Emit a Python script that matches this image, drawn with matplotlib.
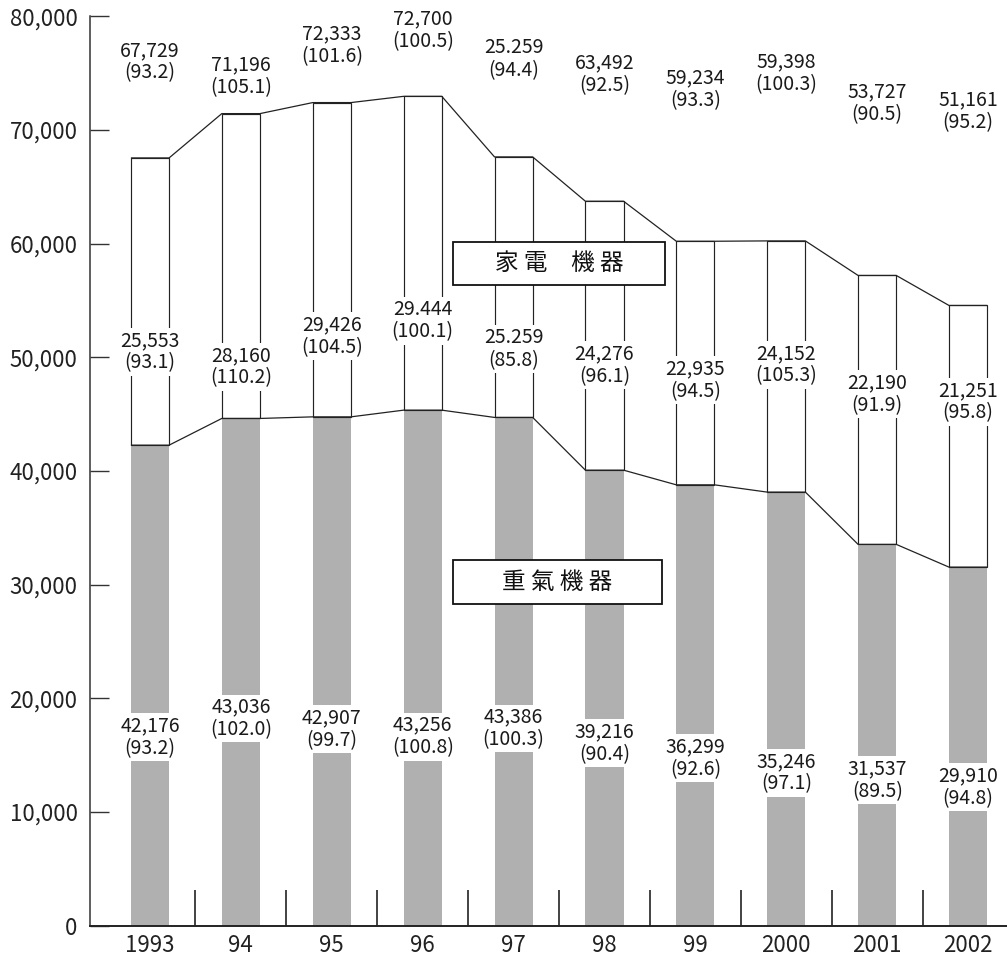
import matplotlib
matplotlib.use("Agg")
import matplotlib.pyplot as plt
from matplotlib.patches import Rectangle
import numpy as np

plt.rcParams['font.family'] = ['Noto Sans CJK KR', 'DejaVu Sans']

# ---- data (bar heights as drawn in the picture) ----
years = ["1993", "94", "95", "96", "97", "98", "99", "2000", "2001", "2002"]
heavy = [42260, 44610, 44750, 45340, 44700, 40060, 38770, 38130, 33530, 31530]
home = [25270, 26820, 27650, 27610, 22920, 23660, 21430, 22100, 23660, 23020]

# ---- printed labels ----
total_lbl = ["67,729", "71,196", "72,333", "72,700", "25.259", "63,492", "59,234", "59,398", "53,727", "51,161"]
total_pct = ["93.2", "105.1", "101.6", "100.5", "94.4", "92.5", "93.3", "100.3", "90.5", "95.2"]
home_lbl = ["25,553", "28,160", "29,426", "29.444", "25.259", "24,276", "22,935", "24,152", "22,190", "21,251"]
home_pct = ["93.1", "110.2", "104.5", "100.1", "85.8", "96.1", "94.5", "105.3", "91.9", "95.8"]
heavy_lbl = ["42,176", "43,036", "42,907", "43,256", "43,386", "39,216", "36,299", "35,246", "31,537", "29,910"]
heavy_pct = ["93.2", "102.0", "99.7", "100.8", "100.3", "90.4", "92.6", "97.1", "89.5", "94.8"]

yticks = [0, 10000, 20000, 30000, 40000, 50000, 60000, 70000, 80000]
home_name = "家 電　機 器"
heavy_name = "重 氣 機 器"

# ---- layout (label vertical positions, in axis units) ----
total_y = [76000, 74710, 77480, 78800, 76210, 74890, 73610, 74980, 72340, 71630]
home_y = [50480, 49160, 51850, 53210, 50700, 49300, 47980, 49340, 46750, 46090]
heavy_y = [16580, 18210, 17280, 16620, 17330, 16050, 14730, 13450, 12800, 12180]

W, H = 1007, 955
fig = plt.figure(figsize=(W / 100, H / 100), dpi=100)
ax = fig.add_axes([90 / W, (H - 925.5) / H, (W - 90) / W, (925.5 - 16.2) / H])

x = np.arange(len(years))
bw = 0.42
txt = '#1a1a1a'
lc = '#222222'

ax.bar(x, heavy, width=bw, color='#b0b0b0', edgecolor='none', zorder=1)
ax.bar(x, home, width=bw, bottom=heavy, color='white', edgecolor=lc, linewidth=0.85, zorder=1)

heavy_a = np.array(heavy)
total_a = heavy_a + np.array(home)
xs = np.column_stack([x - bw / 2, x + bw / 2]).ravel()
ax.plot(xs, np.repeat(heavy_a, 2), color=lc, lw=0.9, zorder=2, solid_capstyle='butt')
ax.plot(xs, np.repeat(total_a, 2), color=lc, lw=0.9, zorder=2, solid_capstyle='butt')

fs = 14
for i in range(len(years)):
    ax.text(x[i], total_y[i], f"{total_lbl[i]}\n({total_pct[i]})", ha='center', va='center',
            fontsize=fs, color=txt, linespacing=1.1, zorder=3)
    ax.text(x[i], home_y[i], f"{home_lbl[i]}\n({home_pct[i]})", ha='center', va='center',
            fontsize=fs, color=txt, linespacing=1.1, zorder=3,
            bbox=dict(facecolor='white', edgecolor='none', pad=1.5))
    ax.text(x[i], heavy_y[i], f"{heavy_lbl[i]}\n({heavy_pct[i]})", ha='center', va='center',
            fontsize=fs, color=txt, linespacing=1.1, zorder=3,
            bbox=dict(facecolor='white', edgecolor='none', pad=1.5))

# legend boxes
ax.add_patch(Rectangle((3.333, 56330), 2.333, 3780, facecolor='white', edgecolor='#111111', lw=1.3, zorder=4))
ax.text(4.50, 58220, home_name, ha='center', va='center', fontsize=17, color='#111111', zorder=5)
ax.add_patch(Rectangle((3.333, 28280), 2.30, 3870, facecolor='white', edgecolor='#111111', lw=1.3, zorder=4))
ax.text(4.48, 30215, heavy_name, ha='center', va='center', fontsize=17, color='#111111', zorder=5)

ax.set_xlim(-0.66, 9.428)
ax.set_ylim(0, 80000)
ax.set_yticks(yticks)
ax.set_yticklabels([f"{v:,}" for v in yticks])
ax.set_xticks(x)
ax.set_xticklabels(years)
ax.set_xticks(x[:-1] + 0.5, minor=True)

ax.tick_params(axis='y', direction='in', length=13.5, width=1.0, color='#333333',
               labelsize=16, labelcolor='#222222', pad=9)
ax.tick_params(axis='x', which='major', length=0, labelsize=16, labelcolor='#222222', pad=6)
ax.tick_params(axis='x', which='minor', direction='in', length=26, width=1.2, color='#222222')

for s in ['top', 'right']:
    ax.spines[s].set_visible(False)
ax.spines['left'].set_color('#333333')
ax.spines['left'].set_linewidth(1.1)
ax.spines['bottom'].set_color('#222222')
ax.spines['bottom'].set_linewidth(1.4)

fig.savefig("out.png", dpi=100)
